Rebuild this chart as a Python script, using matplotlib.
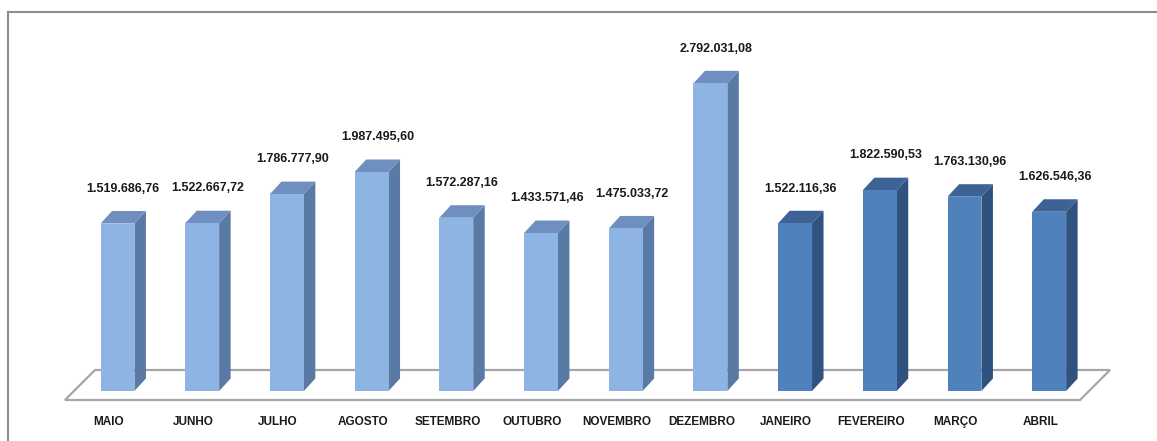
import matplotlib
matplotlib.use("Agg")
import matplotlib.pyplot as plt
from matplotlib.patches import Polygon
from matplotlib.lines import Line2D

plt.rcParams['font.family'] = ['DejaVu Sans Condensed', 'Liberation Sans Narrow', 'Liberation Sans']

# monthly values
months = ['MAIO', 'JUNHO', 'JULHO', 'AGOSTO', 'SETEMBRO', 'OUTUBRO', 'NOVEMBRO',
          'DEZEMBRO', 'JANEIRO', 'FEVEREIRO', 'MARÇO', 'ABRIL']
values = [1519686.76, 1522667.72, 1786777.90, 1987495.60, 1572287.16, 1433571.46,
          1475033.72, 2792031.08, 1522116.36, 1822590.53, 1763130.96, 1626546.36]
labels = ['1.519.686,76', '1.522.667,72', '1.786.777,90', '1.987.495,60', '1.572.287,16',
          '1.433.571,46', '1.475.033,72', '2.792.031,08', '1.522.116,36', '1.822.590,53',
          '1.763.130,96', '1.626.546,36']
year_break = 8  # first month of the new year (JANEIRO)

light = ('#8db4e3', '#5a7aa6', '#6e8fbf')   # front, side, top
dark = ('#4f81bd', '#30527f', '#3d6296')

W, H = 1157, 441
fig = plt.figure(figsize=(W / 100, H / 100), dpi=100)
ax = fig.add_axes([0, 0, 1, 1])

px_x = 84.7          # pixels per category
px_y = 110.2 / 1e6   # pixels per unit value
x0, y0 = 117.5, 391  # pixel position of first bar centre / base
ax.set_xlim(-x0 / px_x, (W - x0) / px_x)
ax.set_ylim(-(H - y0) / px_y, y0 / px_y)
ax.axis('off')

dx = 11.5 / px_x
dy = 12.5 / px_y
hw = 0.2
n = len(months)

# floor
fl = [(-0.62, -9 / px_y), (n - 1 + 0.364, -9 / px_y),
      (n - 1 + 0.718, 21 / px_y), (-0.266, 21 / px_y)]
ax.add_patch(Polygon(fl, closed=True, facecolor='white', edgecolor='#a6a6a6', lw=1.6, zorder=1))

for i, (m, v, lab) in enumerate(zip(months, values, labels)):
    front, side, top = dark if i >= year_break else light
    l, r = i - hw, i + hw
    ax.add_patch(Polygon([(r, 0), (r + dx, dy), (r + dx, v + dy), (r, v)],
                         closed=True, facecolor=side, edgecolor='none', zorder=2))
    ax.add_patch(Polygon([(l, v), (r, v), (r + dx, v + dy), (l + dx, v + dy)],
                         closed=True, facecolor=top, edgecolor='none', zorder=2))
    ax.add_patch(Polygon([(l, 0), (r, 0), (r, v), (l, v)],
                         closed=True, facecolor=front, edgecolor='none', zorder=3))
    ax.annotate(lab, (i + dx / 2, v), xytext=(0, 25), textcoords='offset points',
                ha='center', va='center', fontsize=9, fontweight='bold', color='#1a1a1a')
    ax.text(i - 0.106, -31 / px_y, m, ha='center', va='center', fontsize=8.5,
            fontweight='bold', color='#1a1a1a')

# frame (left and top edges visible)
fig.add_artist(Line2D([8 / W, 8 / W], [0, 1 - 12 / H], transform=fig.transFigure,
                      color='#8c8c8c', lw=1.5))
fig.add_artist(Line2D([8 / W, 1], [1 - 12 / H, 1 - 12 / H], transform=fig.transFigure,
                      color='#8c8c8c', lw=1.5))

fig.savefig('out.png', dpi=100)
